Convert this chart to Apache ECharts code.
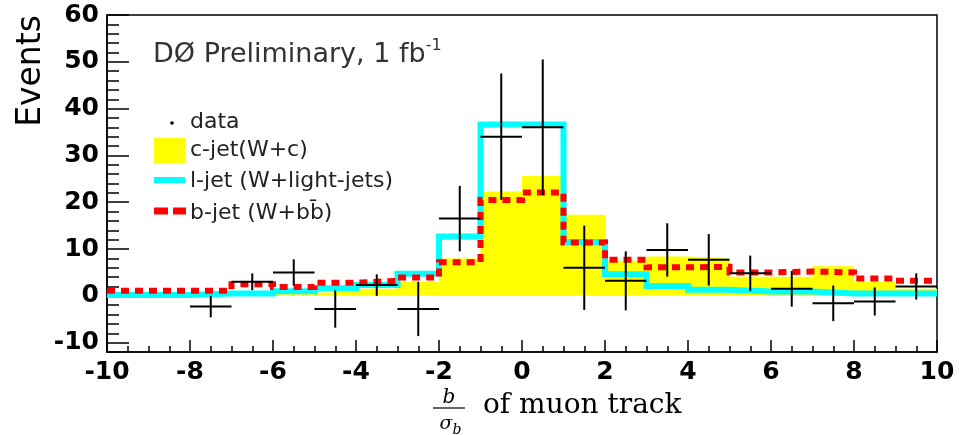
<!DOCTYPE html>
<html><head><meta charset="utf-8">
<script src="https://cdn.jsdelivr.net/npm/echarts@6/dist/echarts.min.js"></script>
<style>html,body{margin:0;padding:0;background:#fff}#c{width:965px;height:435px}</style>
</head><body><div id="c"></div>
<script>
// lower bin edges (bin width 1) from -10 to 9
const binEdges = [-10,-9,-8,-7,-6,-5,-4,-3,-2,-1,0,1,2,3,4,5,6,7,8,9];
const binWidth = 1;
// c-jet (W+c) – yellow filled histogram
const cjet = [0.2,0.3,0.3,0.4,0.6,1.0,1.5,3.0,8.0,22.3,25.6,17.3,7.5,8.4,8.0,4.1,4.1,6.3,3.0,1.5];
// l-jet (W+light-jets) – cyan histogram
const ljet = [0.2,0.2,0.5,0.5,1.0,1.6,2.3,4.7,12.7,36.6,36.6,11.5,4.6,2.1,1.3,0.9,0.9,0.5,0.5,0.5];
// b-jet (W+bb) – red dashed histogram
const bjet = [1.1,1.1,1.1,2.5,1.9,2.8,3.2,3.9,7.2,20.5,22.1,11.4,7.7,6.1,6.2,5.0,5.2,5.0,3.7,3.2];
// data points
const dataX = [-7.5,-6.5,-5.5,-4.5,-3.5,-2.5,-1.5,-0.5,0.5,1.5,2.5,3.5,4.5,5.5,6.5,7.5,8.5,9.5];
const dataY = [-2.3,3.0,5.0,-2.8,2.3,-2.8,16.5,34.0,36.0,6.0,3.2,9.8,7.7,4.8,1.5,-1.6,-1.2,2.0];
const dataErr = [2.3,1.8,2.8,4.0,2.3,5.8,7.0,13.5,14.5,9.0,6.3,5.7,5.5,3.8,3.8,3.8,3.0,2.8];
const yTickLabels = [-10,0,10,20,30,40,50,60];

function stepData(vals){
  const d = binEdges.map((e,i)=>[e, vals[i]]);
  d.push([binEdges[binEdges.length-1]+binWidth, vals[vals.length-1]]);
  return d;
}

const chart = echarts.init(document.getElementById('c'), null, {renderer:'canvas'});
const tickFont = {fontFamily:'DejaVu Sans', fontWeight:'bold', fontSize:25, color:'#000'};
const legFont = '22px "DejaVu Sans"';

chart.setOption({
  animation:false,
  backgroundColor:'#fff',
  grid:{left:107, right:28, top:15, bottom:83, show:true, borderColor:'#000', borderWidth:1.5, containLabel:false, outerBoundsMode:'none'},
  xAxis:{
    type:'value', min:-10, max:10, interval:2,
    axisLine:{show:true, onZero:false, lineStyle:{color:'#000', width:1.5}},
    axisTick:{show:true, inside:true, length:12, lineStyle:{color:'#000', width:1.5}},
    minorTick:{show:true, splitNumber:4, length:6, lineStyle:{color:'#000', width:1.5}},
    splitLine:{show:false},
    axisLabel:Object.assign({margin:8}, tickFont)
  },
  yAxis:[{
    type:'value', min:-12, max:60, interval:2, position:'left',
    axisLine:{show:true, onZero:false, lineStyle:{color:'#000', width:1.5}},
    axisTick:{show:true, inside:true, length:22, customValues:yTickLabels, lineStyle:{color:'#000', width:1.5}},
    splitLine:{show:false},
    axisLabel:Object.assign({margin:8, customValues:yTickLabels}, tickFont)
  },{
    type:'value', min:-12, max:60, interval:2, position:'left', offset:0,
    axisLine:{show:false, onZero:false},
    axisTick:{show:true, inside:true, length:12, lineStyle:{color:'#000', width:1.5}},
    axisLabel:{show:false},
    splitLine:{show:false}
  }],
  series:[
    {type:'line', name:'c-jet', step:'end', data:stepData(cjet), symbol:'none',
     lineStyle:{width:0, color:'#ffff00'}, areaStyle:{color:'#ffff00', opacity:1}, z:1},
    {type:'line', name:'l-jet', step:'end', data:stepData(ljet), symbol:'none',
     lineStyle:{width:6, color:'#00ffff', join:'miter', cap:'butt'}, z:2},
    {type:'line', name:'b-jet', step:'end', data:stepData(bjet), symbol:'none',
     lineStyle:{width:6, color:'#ff0000', type:[8,6], join:'miter', cap:'butt'}, z:3},
    {type:'custom', name:'data', z:10,
     data:dataX.map((x,i)=>[x, dataY[i], dataErr[i]]),
     encode:{x:0, y:1},
     renderItem:function(params, api){
       const x=api.value(0), y=api.value(1), e=api.value(2);
       const l=api.coord([x-binWidth/2,y]), r=api.coord([x+binWidth/2,y]);
       const t=api.coord([x,y+e]), b=api.coord([x,y-e]);
       return {type:'group', children:[
         {type:'line', shape:{x1:l[0],y1:l[1],x2:r[0],y2:r[1]}, style:{stroke:'#000', lineWidth:2}},
         {type:'line', shape:{x1:t[0],y1:t[1],x2:b[0],y2:b[1]}, style:{stroke:'#000', lineWidth:2}}
       ]};
     }}
  ],
  graphic:[
    {type:'text', x:31, y:71, rotation:Math.PI/2, style:{text:'Events', font:'33px "DejaVu Sans"', fill:'#000', align:'center', verticalAlign:'middle'}},
    {type:'text', x:153, y:55, style:{text:'DØ Preliminary, 1 fb{sup|-1}', font:'27px "DejaVu Sans"', fill:'#333', verticalAlign:'middle',
      rich:{sup:{font:'16px "DejaVu Sans"', fill:'#333', padding:[0,0,18,0]}}}},
    // legend
    {type:'circle', shape:{cx:172, cy:123, r:1.8}, style:{fill:'#000'}},
    {type:'text', x:190, y:122, style:{text:'data', font:legFont, fill:'#222', verticalAlign:'middle'}},
    {type:'rect', shape:{x:154, y:138, width:31, height:25}, style:{fill:'#ffff00'}},
    {type:'text', x:190, y:150, style:{text:'c-jet(W+c)', font:legFont, fill:'#222', verticalAlign:'middle'}},
    {type:'line', shape:{x1:154, y1:180, x2:185, y2:180}, style:{stroke:'#00ffff', lineWidth:6}},
    {type:'text', x:190, y:181, style:{text:'l-jet (W+light-jets)', font:legFont, fill:'#222', verticalAlign:'middle'}},
    {type:'line', shape:{x1:154, y1:211, x2:186, y2:211}, style:{stroke:'#ff0000', lineWidth:7, lineDash:[14,5]}},
    {type:'text', x:190, y:213, style:{text:'b-jet (W+bb\u0304)', font:legFont, fill:'#222', verticalAlign:'middle'}},
    // x-axis title: b / sigma_b of muon track
    {type:'text', x:449, y:398, style:{text:'b', font:'italic 20px "DejaVu Serif"', fill:'#000', align:'center', verticalAlign:'middle'}},
    {type:'line', shape:{x1:433, y1:408, x2:465, y2:408}, style:{stroke:'#000', lineWidth:1.2}},
    {type:'text', x:446, y:424, style:{text:'σ', font:'italic 19px "DejaVu Serif"', fill:'#000', align:'center', verticalAlign:'middle'}},
    {type:'text', x:457, y:430, style:{text:'b', font:'italic 14px "DejaVu Serif"', fill:'#000', align:'center', verticalAlign:'middle'}},
    {type:'text', x:483, y:406, style:{text:'of muon track', font:'28px "DejaVu Serif"', fill:'#000', verticalAlign:'middle'}}
  ]
});
</script>
</body></html>
